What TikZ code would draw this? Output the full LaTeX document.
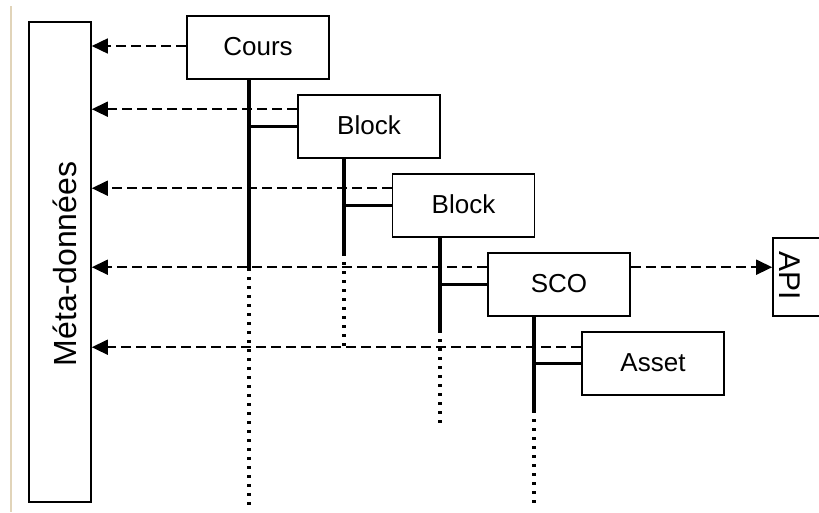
\documentclass[tikz,border=0pt]{standalone}
\usepackage{fontspec}
\setmainfont{Liberation Sans}
\usetikzlibrary{arrows.meta}
\definecolor{tan}{RGB}{225,212,185}
\begin{document}
\begin{tikzpicture}[x=1pt,y=-1pt,
 box/.style={draw, line width=1.6pt, minimum width=142pt, minimum height=63pt, inner sep=0pt,
   font=\fontsize{26}{30}\selectfont, text height=17pt, text depth=2pt},
 darrow/.style={line width=1.6pt, dash pattern=on 10pt off 5pt, -{Triangle[length=16pt,width=15pt]}},
 trunk/.style={line width=4.2pt},
 branch/.style={line width=3.8pt},
 dotline/.style={line width=3.3pt, dash pattern=on 3.3pt off 5.7pt}]
\useasboundingbox (0,0) rectangle (819,512);
\fill[white] (0,0) rectangle (819,512);
\draw[tan, line width=1.5pt] (11,6) -- (11,512);

% boxes
\node[box, minimum width=62pt, minimum height=480pt] (meta) at (60,262) {};
\node[font=\fontsize{32}{36}\selectfont, rotate=90, inner sep=0pt] (metat) at (65,264) {Méta-données};
\node[box] (cours) at (258,47.5) {Cours};
\node[box] (block1) at (369,126.5) {Block};
\node[box] (block2) at (463.5,205.5) {Block};
\node[box] (sco) at (559,284.5) {SCO};
\node[box] (asset) at (653,363.5) {Asset};
\node[box, minimum width=100pt, minimum height=78pt] (api) at (823,277) {};
\node[font=\fontsize{30}{34}\selectfont, rotate=-90, inner sep=0pt] (apit) at (790,276) {API};

% trunks
\coordinate (t0) at (249,268); \coordinate (d0) at (249,505);
\coordinate (t1) at (344,253); \coordinate (d1) at (344,348);
\coordinate (t2) at (440,330); \coordinate (d2) at (440,426);
\coordinate (t3) at (534,410); \coordinate (d3) at (534,505);

\draw[trunk] (cours.south -| t0) -- (t0);
\draw[dotline] (t0) -- (d0);
\draw[branch] (block1.west -| t0) -- (block1.west);

\draw[trunk] (block1.south -| t1) -- (t1);
\draw[dotline] (t1) -- (d1);
\draw[branch] (block2.west -| t1) -- (block2.west);

\draw[trunk] (block2.south -| t2) -- (t2);
\draw[dotline] (t2) -- (d2);
\draw[branch] (sco.west -| t2) -- (sco.west);

\draw[trunk] (sco.south -| t3) -- (t3);
\draw[dotline] (t3) -- (d3);
\draw[branch] (asset.west -| t3) -- (asset.west);

% dashed arrows to meta-data
\coordinate (a0) at ([yshift=1.5pt]cours.west);
\coordinate (a1) at ([yshift=-15pt]block1.north west);
\coordinate (a2) at ([yshift=-15pt]block2.north west);
\coordinate (a3) at ([yshift=-15pt]sco.north west);
\coordinate (a4) at ([yshift=-16pt]asset.north west);
\draw[darrow] (a0) -- (a0 -| meta.east);
\draw[darrow] (a1) -- (a1 -| meta.east);
\draw[darrow] (a2) -- (a2 -| meta.east);
\draw[darrow] (a3) -- (a3 -| meta.east);
\draw[darrow] (a4) -- (a4 -| meta.east);
\draw[darrow] (a3 -| sco.east) -- (a3 -| api.west);
\end{tikzpicture}
\end{document}
